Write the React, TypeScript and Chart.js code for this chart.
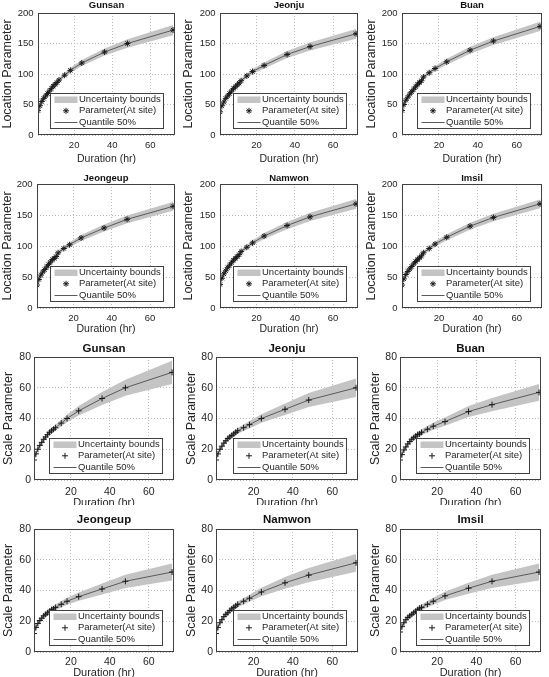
import React, { useEffect, useRef } from 'react';
import { Chart, registerables } from 'chart.js';
import { drawPoint } from 'chart.js/helpers';

Chart.register(...registerables);

// Rainfall durations (hr) at which the GEV parameters were estimated
const DURATIONS = [1, 2, 3, 4, 5, 6, 7, 8, 9, 10, 11, 12, 15, 18, 24, 36, 48, 72];
const X_TICKS = [20, 40, 60];
const LOC_TICK_STEP = 50;
const SCALE_TICK_STEP = 20;

// Location parameter: at-site estimate, lower and upper uncertainty bounds
const GUNSAN_LOC = [40, 48, 55, 60, 64, 68, 72, 76, 80, 83, 86, 90, 98, 106, 118, 136, 150, 172];
const GUNSAN_LOC_LO = [38.5, 46.3, 53.1, 57.9, 61.7, 65.5, 69.3, 73.1, 77, 79.9, 82.8, 86.6, 94.2, 101.8, 113.2, 130.2, 143.2, 163.5];
const GUNSAN_LOC_HI = [41.5, 49.7, 56.9, 62.1, 66.3, 70.5, 74.7, 78.9, 83, 86.1, 89.2, 93.4, 101.8, 110.2, 122.8, 141.8, 156.8, 180.5];

const JEONJU_LOC = [38, 48, 54, 60, 64, 68, 72, 76, 79, 82, 85, 89, 97, 104, 114, 132, 145, 166];
const JEONJU_LOC_LO = [36.5, 46.3, 52.1, 57.9, 61.7, 65.5, 69.3, 73.1, 76, 78.9, 81.8, 85.6, 93.2, 99.8, 109.2, 126.2, 138.4, 158];
const JEONJU_LOC_HI = [39.5, 49.7, 55.9, 62.1, 66.3, 70.5, 74.7, 78.9, 82, 85.1, 88.2, 92.4, 100.8, 108.2, 118.8, 137.8, 151.6, 174];

const BUAN_LOC = [40, 50, 57, 62, 67, 71, 75, 79, 83, 86, 89, 95, 102, 109, 120, 139, 154, 178];
const BUAN_LOC_LO = [38.5, 48.3, 55.1, 59.9, 64.7, 68.5, 72.3, 76.1, 80, 82.9, 85.8, 91.6, 98.2, 104.8, 115.2, 133.4, 147.6, 170.5];
const BUAN_LOC_HI = [41.5, 51.7, 58.9, 64.1, 69.3, 73.5, 77.7, 81.9, 86, 89.1, 92.2, 98.4, 105.8, 113.2, 124.8, 144.6, 160.4, 185.5];

const JEONGEUP_LOC = [37, 46, 53, 58, 62, 66, 70, 74, 78, 80, 83, 89, 96, 102, 113, 129, 143, 164];
const JEONGEUP_LOC_LO = [35.5, 44.3, 51.1, 55.9, 59.7, 63.5, 67.3, 71.1, 75, 76.9, 79.8, 85.6, 92.2, 97.8, 108.2, 123.4, 136.8, 157];
const JEONGEUP_LOC_HI = [38.5, 47.7, 54.9, 60.1, 64.3, 68.5, 72.7, 76.9, 81, 83.1, 86.2, 92.4, 99.8, 106.2, 117.8, 134.6, 149.2, 171];

const NAMWON_LOC = [38, 48, 55, 60, 65, 69, 73, 77, 80, 83, 86, 91, 98, 105, 116, 133, 147, 168];
const NAMWON_LOC_LO = [36.5, 46.3, 53.1, 57.9, 62.7, 66.5, 70.3, 74.1, 77, 79.9, 82.8, 87.6, 94.2, 100.8, 111.2, 127.2, 140.4, 160];
const NAMWON_LOC_HI = [39.5, 49.7, 56.9, 62.1, 67.3, 71.5, 75.7, 79.9, 83, 86.1, 89.2, 94.4, 101.8, 109.2, 120.8, 138.8, 153.6, 176];

const IMSIL_LOC = [37, 47, 54, 59, 63, 67, 71, 75, 78, 81, 84, 89, 96, 103, 114, 132, 146, 168];
const IMSIL_LOC_LO = [35.5, 45.3, 52.1, 56.9, 60.7, 64.5, 68.3, 72.1, 75, 77.9, 80.8, 85.6, 92.2, 98.8, 109.2, 126.4, 139.8, 161];
const IMSIL_LOC_HI = [38.5, 48.7, 55.9, 61.1, 65.3, 69.5, 73.7, 77.9, 81, 84.1, 87.2, 92.4, 99.8, 107.2, 118.8, 137.6, 152.2, 175];

// Scale parameter: at-site estimate, lower and upper uncertainty bounds
const GUNSAN_SC = [13, 17, 20, 22.5, 24.5, 26.5, 28, 29.5, 31, 32, 33, 34, 37, 40, 45, 53, 60, 70];
const GUNSAN_SC_LO = [12.2, 16.1, 19, 21.4, 23.3, 25.2, 26.6, 28, 29.4, 30.3, 31.2, 32.1, 34.8, 37.5, 41.9, 48.8, 54.8, 62.5];
const GUNSAN_SC_HI = [13.8, 17.9, 21, 23.6, 25.7, 27.8, 29.4, 31, 32.6, 33.7, 34.8, 35.9, 39.2, 42.5, 48.1, 57.2, 65.2, 77.5];

const JEONJU_SC = [13, 17, 20, 22, 24, 25.5, 27, 28, 29, 30, 31, 32, 34, 36, 40, 46, 52, 60];
const JEONJU_SC_LO = [12.2, 16.1, 19, 20.9, 22.8, 24.2, 25.6, 26.5, 27.4, 28.3, 29.2, 30.1, 31.9, 33.7, 37.2, 42.2, 47.4, 54];
const JEONJU_SC_HI = [13.8, 17.9, 21, 23.1, 25.2, 26.8, 28.4, 29.5, 30.6, 31.7, 32.8, 33.9, 36.1, 38.3, 42.8, 49.8, 56.6, 66];

const BUAN_SC = [13, 16.5, 19.5, 21.5, 23.5, 25, 26.5, 27.5, 28.5, 29.5, 30, 31, 33, 35, 38, 44.5, 49, 57];
const BUAN_SC_LO = [12.2, 15.6, 18.5, 20.4, 22.3, 23.7, 25.1, 26, 26.9, 27.8, 28.2, 29.1, 30.9, 32.7, 35.3, 40.9, 44.7, 51.5];
const BUAN_SC_HI = [13.8, 17.4, 20.5, 22.6, 24.7, 26.3, 27.9, 29, 30.1, 31.2, 31.8, 32.9, 35.1, 37.3, 40.7, 48.1, 53.3, 62.5];

const JEONGEUP_SC = [12, 16, 18.5, 20.5, 22, 23.5, 24.5, 25.5, 26.5, 27.5, 28, 29, 31, 33, 36, 41, 46, 52];
const JEONGEUP_SC_LO = [11.2, 15.1, 17.5, 19.4, 20.8, 22.2, 23.1, 24, 24.9, 25.8, 26.2, 27.1, 28.9, 30.7, 33.3, 37.4, 41.7, 46.5];
const JEONGEUP_SC_HI = [12.8, 16.9, 19.5, 21.6, 23.2, 24.8, 25.9, 27, 28.1, 29.2, 29.8, 30.9, 33.1, 35.3, 38.7, 44.6, 50.3, 57.5];

const NAMWON_SC = [12, 16, 19, 21, 23, 24.5, 25.5, 27, 28, 29, 30, 31, 33, 35, 39, 45, 50, 58];
const NAMWON_SC_LO = [11.2, 15.1, 18, 19.9, 21.8, 23.2, 24.1, 25.5, 26.4, 27.3, 28.2, 29.1, 30.9, 32.7, 36.2, 41.2, 45.4, 52.2];
const NAMWON_SC_HI = [12.8, 16.9, 20, 22.1, 24.2, 25.8, 26.9, 28.5, 29.6, 30.7, 31.8, 32.9, 35.1, 37.3, 41.8, 48.8, 54.6, 63.8];

const IMSIL_SC = [13, 16.5, 19, 21, 22.5, 23.5, 24.5, 25.5, 26.5, 27.5, 28.5, 29, 31, 33, 36.5, 41.5, 46, 52];
const IMSIL_SC_LO = [12.2, 15.6, 18, 19.9, 21.3, 22.2, 23.1, 24, 24.9, 25.8, 26.7, 27.1, 28.9, 30.7, 33.8, 37.9, 41.7, 46.5];
const IMSIL_SC_HI = [13.8, 17.4, 20, 22.1, 23.7, 24.8, 25.9, 27, 28.1, 29.2, 30.3, 30.9, 33.1, 35.3, 39.2, 45.1, 50.3, 57.5];

type Kind = 'loc' | 'scale';
interface Panel {
  station: string;
  kind: Kind;
  values: number[];
  lower: number[];
  upper: number[];
}

const PANELS: Panel[] = [
  { station: 'Gunsan', kind: 'loc', values: GUNSAN_LOC, lower: GUNSAN_LOC_LO, upper: GUNSAN_LOC_HI },
  { station: 'Jeonju', kind: 'loc', values: JEONJU_LOC, lower: JEONJU_LOC_LO, upper: JEONJU_LOC_HI },
  { station: 'Buan', kind: 'loc', values: BUAN_LOC, lower: BUAN_LOC_LO, upper: BUAN_LOC_HI },
  { station: 'Jeongeup', kind: 'loc', values: JEONGEUP_LOC, lower: JEONGEUP_LOC_LO, upper: JEONGEUP_LOC_HI },
  { station: 'Namwon', kind: 'loc', values: NAMWON_LOC, lower: NAMWON_LOC_LO, upper: NAMWON_LOC_HI },
  { station: 'Imsil', kind: 'loc', values: IMSIL_LOC, lower: IMSIL_LOC_LO, upper: IMSIL_LOC_HI },
  { station: 'Gunsan', kind: 'scale', values: GUNSAN_SC, lower: GUNSAN_SC_LO, upper: GUNSAN_SC_HI },
  { station: 'Jeonju', kind: 'scale', values: JEONJU_SC, lower: JEONJU_SC_LO, upper: JEONJU_SC_HI },
  { station: 'Buan', kind: 'scale', values: BUAN_SC, lower: BUAN_SC_LO, upper: BUAN_SC_HI },
  { station: 'Jeongeup', kind: 'scale', values: JEONGEUP_SC, lower: JEONGEUP_SC_LO, upper: JEONGEUP_SC_HI },
  { station: 'Namwon', kind: 'scale', values: NAMWON_SC, lower: NAMWON_SC_LO, upper: NAMWON_SC_HI },
  { station: 'Imsil', kind: 'scale', values: IMSIL_SC, lower: IMSIL_SC_LO, upper: IMSIL_SC_HI },
];

const LEGEND_LABELS = ['Uncertainty bounds', 'Parameter(At site)', 'Quantile 50%'];

// Styling
const FONT = '"Liberation Sans", Arial, Helvetica, sans-serif';
const INK = '#262626';
const BAND = '#c4c4c4';
const LINE = '#5a5a5a';
const MARK = '#1a1a1a';
const GRID = '#bdbdbd';
const FRAME = '#404040';
const Y_TITLE_SIZE = 12.5;
const LEGEND_SIZE = 9.5;

// Page layout of the 4 x 3 panel grid
interface RowGeom {
  top: number;
  height: number;
  plotTop: number;
  plotBottom: number;
  titleY: number;
  xTitleY: number;
  xTickY: number;
  titleSize: number;
  tickSize: number;
  xTitleSize: number;
  yTickPad: number;
  plotX: [number, number][];
  yTitleX: number[];
}

const ROWS: RowGeom[] = [
  {
    top: 0, height: 165, plotTop: 13, plotBottom: 135, titleY: 5, xTitleY: 159, xTickY: 145,
    titleSize: 9.5, tickSize: 9.5, xTitleSize: 10.5, yTickPad: 4.5,
    plotX: [[38, 179], [220, 361], [402, 542]], yTitleX: [8, 189, 371.5],
  },
  {
    top: 165, height: 170, plotTop: 184, plotBottom: 308, titleY: 178, xTitleY: 329, xTickY: 318,
    titleSize: 9.5, tickSize: 9.5, xTitleSize: 10.5, yTickPad: 4.5,
    plotX: [[37, 178], [220, 361], [402, 542]], yTitleX: [8, 189, 371.5],
  },
  {
    top: 335, height: 170, plotTop: 357, plotBottom: 480, titleY: 349, xTitleY: 503, xTickY: 492,
    titleSize: 11.5, tickSize: 10.5, xTitleSize: 11, yTickPad: 3,
    plotX: [[34, 174], [216, 359], [400, 541]], yTitleX: [9, 192, 376],
  },
  {
    top: 505, height: 172, plotTop: 529, plotBottom: 652, titleY: 520, xTitleY: 673, xTickY: 662,
    titleSize: 11.5, tickSize: 10.5, xTitleSize: 11, yTickPad: 3,
    plotX: [[34, 174], [216, 359], [400, 541]], yTitleX: [8.5, 192, 376],
  },
];

const COLS = [
  { x: 0, w: 180 },
  { x: 180, w: 183 },
  { x: 363, w: 186 },
];

function panelDecor(title: string, row: RowGeom, markerStyle: string, markerRadius: number) {
  return {
    id: 'panelDecor',
    afterDraw(chart: Chart) {
      const { ctx, chartArea: a } = chart;
      ctx.save();

      // Axes box
      ctx.strokeStyle = FRAME;
      ctx.lineWidth = 1;
      ctx.strokeRect(a.left + 0.5, a.top + 0.5, a.right - a.left - 1, a.bottom - a.top - 1);

      // Station title
      ctx.fillStyle = '#111';
      ctx.font = `bold ${row.titleSize}px ${FONT}`;
      ctx.textAlign = 'center';
      ctx.textBaseline = 'middle';
      ctx.fillText(title, (a.left + a.right) / 2, row.titleY - row.top);

      // Legend box in the lower right corner
      ctx.font = `${LEGEND_SIZE}px ${FONT}`;
      const textW = Math.max(...LEGEND_LABELS.map((t) => ctx.measureText(t).width));
      const w = Math.round(29 + textW + 2.5);
      const h = 35;
      const x0 = Math.round(a.right - 12.5 - w) + 0.5;
      const y0 = Math.round(a.bottom - 7.5 - h) + 0.5;
      ctx.fillStyle = '#ffffff';
      ctx.fillRect(x0, y0, w, h);
      ctx.strokeStyle = FRAME;
      ctx.strokeRect(x0, y0, w, h);

      const rowsY = [y0 + 6, y0 + 17.3, y0 + 28.6];
      ctx.fillStyle = BAND;
      ctx.fillRect(x0 + 4, rowsY[0] - 3, 23, 6.5);

      ctx.strokeStyle = MARK;
      ctx.fillStyle = MARK;
      ctx.lineWidth = 1;
      drawPoint(
        ctx,
        { pointStyle: markerStyle as any, radius: markerRadius, borderWidth: 1, rotation: 0 } as any,
        x0 + 15.5,
        rowsY[1]
      );

      ctx.beginPath();
      ctx.strokeStyle = LINE;
      ctx.moveTo(x0 + 4, Math.round(rowsY[2]) + 0.5);
      ctx.lineTo(x0 + 27, Math.round(rowsY[2]) + 0.5);
      ctx.stroke();

      ctx.fillStyle = INK;
      ctx.textAlign = 'left';
      ctx.textBaseline = 'middle';
      LEGEND_LABELS.forEach((t, i) => ctx.fillText(t, x0 + 28.5, rowsY[i]));
      ctx.restore();
    },
  };
}

function PanelChart({ panel, index }: { panel: Panel; index: number }) {
  const ref = useRef<HTMLCanvasElement>(null);
  const row = ROWS[Math.floor(index / 3)];
  const colIdx = index % 3;
  const col = COLS[colIdx];

  useEffect(() => {
    const canvas = ref.current;
    if (!canvas) return;
    const [L, R] = row.plotX[colIdx];
    const isLoc = panel.kind === 'loc';
    const markerStyle = isLoc ? 'star' : 'cross';
    const markerRadius = 3;
    const toPoints = (ys: number[]) => ys.map((y, i) => ({ x: DURATIONS[i], y }));
    const tickLH = row.tickSize * 1.2;
    const xTitleLH = row.xTitleSize * 1.2;
    const yTitleLH = Y_TITLE_SIZE * 1.2;

    const chart = new Chart(canvas, {
      type: 'line',
      data: {
        datasets: [
          {
            label: 'lower bound',
            data: toPoints(panel.lower),
            borderColor: 'rgba(0,0,0,0)',
            borderWidth: 0,
            pointRadius: 0,
            fill: false,
            order: 3,
          },
          {
            label: LEGEND_LABELS[0],
            data: toPoints(panel.upper),
            borderColor: 'rgba(0,0,0,0)',
            borderWidth: 0,
            pointRadius: 0,
            backgroundColor: BAND,
            fill: '-1',
            order: 2,
          },
          {
            label: LEGEND_LABELS[2],
            data: toPoints(panel.values),
            borderColor: LINE,
            borderWidth: 1,
            pointRadius: 0,
            tension: 0,
            fill: false,
            order: 1,
          },
          {
            label: LEGEND_LABELS[1],
            data: toPoints(panel.values),
            showLine: false,
            pointStyle: markerStyle as any,
            pointRadius: markerRadius,
            pointBorderColor: MARK,
            pointBorderWidth: 1,
            pointBackgroundColor: MARK,
            fill: false,
            order: 0,
          },
        ],
      },
      options: {
        animation: false,
        responsive: false,
        devicePixelRatio: 1,
        events: [],
        layout: {
          padding: { left: 0, top: row.plotTop - row.top, right: col.x + col.w - R, bottom: 0 },
        },
        plugins: {
          legend: { display: false },
          tooltip: { enabled: false },
          title: { display: false },
        },
        scales: {
          x: {
            type: 'linear',
            min: 1,
            max: 73,
            afterBuildTicks: (s: any) => {
              s.ticks = X_TICKS.map((v) => ({ value: v }));
            },
            afterFit: (s: any) => {
              s.height = row.top + row.height - row.plotBottom;
            },
            grid: { color: GRID, lineWidth: 1, drawTicks: false },
            border: { display: false, dash: [1, 2] },
            ticks: {
              font: { family: FONT, size: row.tickSize },
              color: INK,
              padding: row.xTickY - row.plotBottom - tickLH / 2,
              maxRotation: 0,
              autoSkip: false,
            },
            title: {
              display: true,
              text: 'Duration (hr)',
              font: { family: FONT, size: row.xTitleSize },
              color: INK,
              padding: { top: 0, bottom: row.top + row.height - row.xTitleY - xTitleLH / 2 },
            },
          },
          y: {
            type: 'linear',
            min: 0,
            max: isLoc ? 200 : 80,
            afterFit: (s: any) => {
              s.width = L - col.x;
            },
            grid: { color: GRID, lineWidth: 1, drawTicks: false },
            border: { display: false, dash: [1, 2] },
            ticks: {
              stepSize: isLoc ? LOC_TICK_STEP : SCALE_TICK_STEP,
              font: { family: FONT, size: row.tickSize },
              color: INK,
              padding: row.yTickPad,
            },
            title: {
              display: true,
              text: isLoc ? 'Location Parameter' : 'Scale Parameter',
              font: { family: FONT, size: Y_TITLE_SIZE },
              color: INK,
              padding: { top: row.yTitleX[colIdx] - col.x - yTitleLH / 2, bottom: 0 },
            },
          },
        },
      },
      plugins: [panelDecor(panel.station, row, markerStyle, markerRadius)],
    } as any);

    return () => chart.destroy();
  }, [panel, index]);

  return (
    <canvas
      ref={ref}
      width={col.w}
      height={row.height}
      style={{ position: 'absolute', left: col.x, top: row.top, width: col.w, height: row.height, display: 'block' }}
    />
  );
}

export default function App() {
  return (
    <div
      style={{
        position: 'absolute',
        left: 0,
        top: 0,
        width: 549,
        height: 677,
        background: '#ffffff',
        overflow: 'hidden',
      }}
    >
      {PANELS.map((p, i) => (
        <PanelChart key={i} panel={p} index={i} />
      ))}
    </div>
  );
}
